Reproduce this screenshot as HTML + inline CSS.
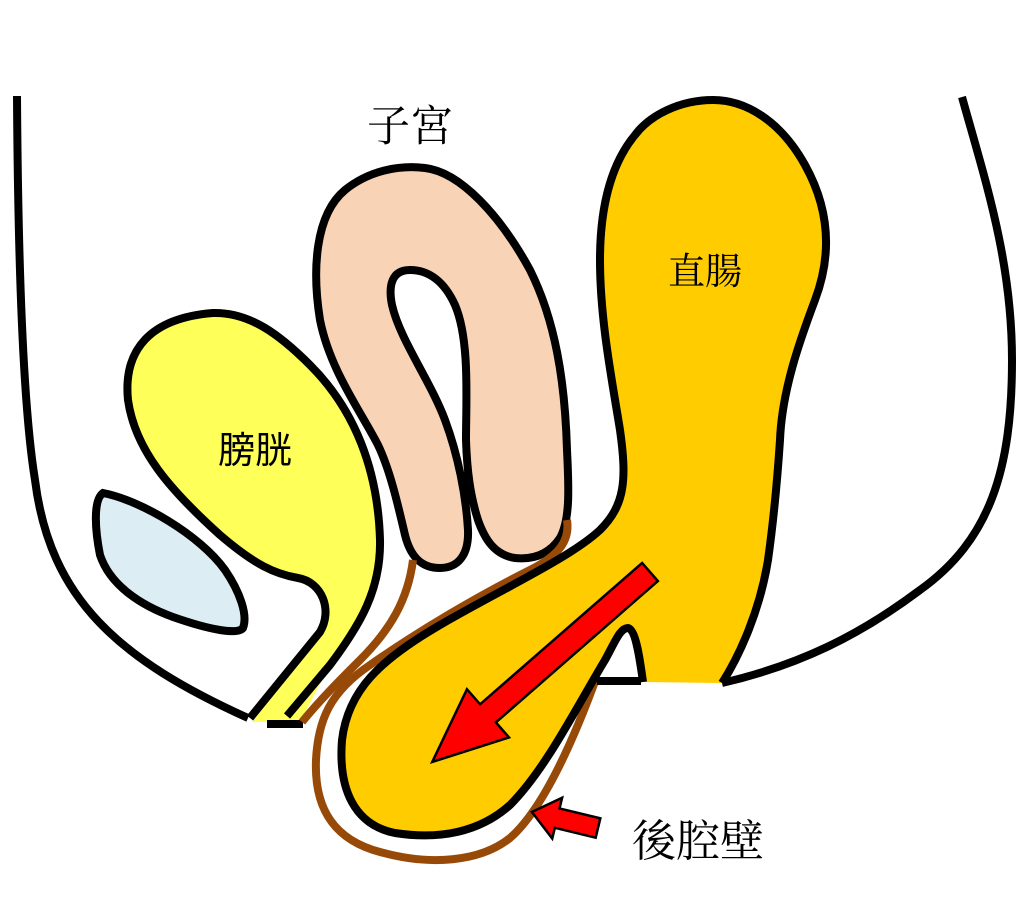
<!DOCTYPE html>
<html><head><meta charset="utf-8"><style>
html,body{margin:0;padding:0;background:#fff;width:1024px;height:905px;overflow:hidden}
svg{display:block}
</style></head><body>
<svg width="1024" height="905" viewBox="0 0 1024 905" xmlns="http://www.w3.org/2000/svg">
<g fill="none" stroke="#000" stroke-width="8" stroke-linejoin="round">
<path d="M17,96 C18,250 22,400 35,480 C50,600 120,660 248,718"/>
<path d="M962,97 C985,180 1012,260 1012,360 C1012,470 990,540 920,590 C860,635 800,665 722,683"/>
</g>
<path d="M103,493 C140,500 200,535 225,570 C240,592 248,615 243,628 C238,635 210,630 173,617 C140,605 110,585 100,555 C95,530 93,500 103,493 Z" fill="#DCEEF3" stroke="#000" stroke-width="8"/>
<path d="M252,722 L320,635 C333,610 322,582 298,578 C275,574 255,565 220,535 C170,490 135,450 128,400 C123,350 150,318 213,313 C250,312 280,335 310,365 C355,410 378,470 380,540 C381,590 360,625 330,665 L300,722 Z" fill="#FFFF5A"/>
<path d="M250,718 L320,632 C333,610 322,582 298,578 C275,574 255,565 220,535 C170,490 135,450 128,400 C123,350 150,318 213,313 C250,312 280,335 310,365 C355,410 378,470 380,540 C381,590 360,625 330,665 L287,716" fill="none" stroke="#000" stroke-width="8" stroke-linejoin="round"/>
<rect x="267" y="720" width="36" height="8" fill="#000"/>
<path d="M440,568 C420,568 410,555 405,535 C398,505 390,470 378,445 C360,410 330,370 320,320 C312,270 315,215 345,190 C370,170 400,165 425,168 C460,172 500,215 530,270 C555,320 565,380 567,450 C569,490 570,520 560,538 C550,553 535,560 515,558 C495,555 485,540 478,520 C470,495 467,470 466,440 C466,400 470,340 455,305 C445,283 430,270 410,270 C392,270 388,285 392,305 C400,340 430,380 445,420 C458,455 466,495 468,530 C469,555 458,568 440,568 Z" fill="#F9D3B5" stroke="#000" stroke-width="8" stroke-linejoin="round"/>
<g fill="none" stroke="#974A07" stroke-width="8" stroke-linecap="butt">
<path d="M567,520 C570,540 560,555 530,570 C480,595 420,630 370,665 C330,692 318,720 316,760 C314,810 335,840 380,852 C430,866 480,862 510,838 C540,812 570,750 597,676"/>
<path d="M413,560 C408,600 390,630 360,660 C340,680 320,700 302,722"/>
</g>
<path d="M722,683 C740,655 760,610 768,560 C775,510 778,470 780,440 C782,390 800,340 815,300 C832,255 830,210 805,165 C780,120 745,100 713,100 C680,100 650,115 635,135 C610,165 600,210 600,260 C600,320 612,380 620,430 C627,480 625,505 600,530 C570,558 500,590 440,625 C380,660 348,690 342,740 C338,790 355,825 395,833 C440,840 480,832 510,805 C545,770 575,710 605,660 C615,642 620,628 628,628 C636,630 640,660 643,682 Z" fill="#FFCC00"/>
<path d="M722,683 C740,655 760,610 768,560 C775,510 778,470 780,440 C782,390 800,340 815,300 C832,255 830,210 805,165 C780,120 745,100 713,100 C680,100 650,115 635,135 C610,165 600,210 600,260 C600,320 612,380 620,430 C627,480 625,505 600,530 C570,558 500,590 440,625 C380,660 348,690 342,740 C338,790 355,825 395,833 C440,840 480,832 510,805 C545,770 575,710 605,660 C615,642 620,628 628,628 C636,630 640,660 643,682" fill="none" stroke="#000" stroke-width="8" stroke-linejoin="round"/>
<rect x="597" y="677" width="44" height="8" fill="#000"/>
<polygon transform="translate(650,572) rotate(138.9)" points="0,-12 215,-12 215,-32 289,0 215,32 215,12 0,12" fill="#FF0000" stroke="#000" stroke-width="2.5"/>
<polygon transform="translate(598,828) rotate(193.6)" points="0,-10 42,-10 42,-21 68,0 42,21 42,10 0,10" fill="#FF0000" stroke="#000" stroke-width="2.5"/>
<g font-family="'Liberation Serif','Noto Serif CJK SC','Noto Sans CJK JP',serif" fill="#000">
<text x="367" y="141" font-size="43">子宮</text>
<text x="632" y="856" font-size="44">後腔壁</text>
<text x="668" y="284" font-size="37">直腸</text>
</g>
<g font-family="'Liberation Sans','Noto Sans CJK JP',sans-serif" fill="#000">
<text x="218" y="463" font-size="37">膀胱</text>
</g>
</svg>
</body></html>
